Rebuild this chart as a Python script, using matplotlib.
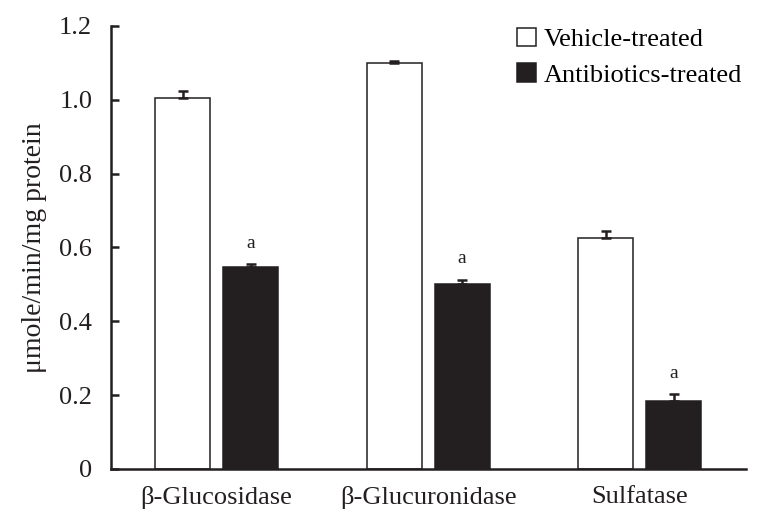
import matplotlib
matplotlib.use("Agg")
import matplotlib.pyplot as plt
from matplotlib.patches import Patch
import numpy as np

# ---------- data ----------
enzymes = ["β-Glucosidase", "β-Glucuronidase", "Sulfatase"]
vehicle = [1.005, 1.099, 0.626]
vehicle_err = [0.018, 0.007, 0.018]
antibiotics = [0.548, 0.502, 0.185]
antibiotics_err = [0.006, 0.010, 0.018]
sig_marks = ["a", "a", "a"]
yticks = [0, 0.2, 0.4, 0.6, 0.8, 1.0, 1.2]
ytick_labels = ["0", "0.2", "0.4", "0.6", "0.8", "1.0", "1.2"]

ink = "#231f20"
plt.rcParams["font.family"] = ["Liberation Serif", "DejaVu Serif"]

fig = plt.figure(figsize=(7.6, 5.25), dpi=100)
ax = fig.add_axes([0.146, 0.1067, 0.836, 0.8438])

x = np.arange(len(enzymes))
w = 0.26
off = 0.161

ax.bar(x - off, vehicle, w, color="white", edgecolor=ink, linewidth=1.1, zorder=2)
ax.bar(x + off, antibiotics, w, color=ink, edgecolor=ink, linewidth=1.1, zorder=2)

# upward-only error bars
ax.errorbar(x - off, vehicle, yerr=[np.zeros(3), vehicle_err], fmt="none",
            ecolor=ink, elinewidth=1.8, capsize=3.8, capthick=1.8, zorder=3)
ax.errorbar(x + off, antibiotics, yerr=[np.zeros(3), antibiotics_err], fmt="none",
            ecolor=ink, elinewidth=1.8, capsize=3.8, capthick=1.8, zorder=3)

for xi, v, e, m in zip(x + off, antibiotics, antibiotics_err, sig_marks):
    ax.text(xi, v + e + 0.057, m, ha="center", va="center", fontsize=14, color=ink)

ax.set_xlim(-0.5, 2.505)
ax.set_ylim(0, 1.2)
ax.set_yticks(yticks)
ax.set_yticklabels(ytick_labels)
ax.set_xticks(x)
ax.set_xticklabels(enzymes)
ax.tick_params(axis="y", direction="in", length=6, width=1.8, labelsize=19,
               pad=13.5, colors=ink)
ax.tick_params(axis="x", length=0, labelsize=19, pad=12, colors=ink)

for s in ["top", "right"]:
    ax.spines[s].set_visible(False)
for s in ["left", "bottom"]:
    ax.spines[s].set_linewidth(1.8)
    ax.spines[s].set_color(ink)

ax.set_ylabel("μmole/min/mg protein", fontsize=20, color=ink, labelpad=9)

handles = [Patch(facecolor="white", edgecolor=ink, linewidth=1.1),
           Patch(facecolor=ink, edgecolor=ink, linewidth=1.1)]
ax.legend(handles, ["Vehicle-treated", "Antibiotics-treated"], loc="upper right",
          bbox_to_anchor=(742 / 760, (525 - 28) / 525), bbox_transform=fig.transFigure,
          borderaxespad=0, borderpad=0, frameon=False, fontsize=19,
          handlelength=0.7, handleheight=0.7, handletextpad=0.3, labelspacing=0.45)

fig.savefig("out.png", dpi=100)
